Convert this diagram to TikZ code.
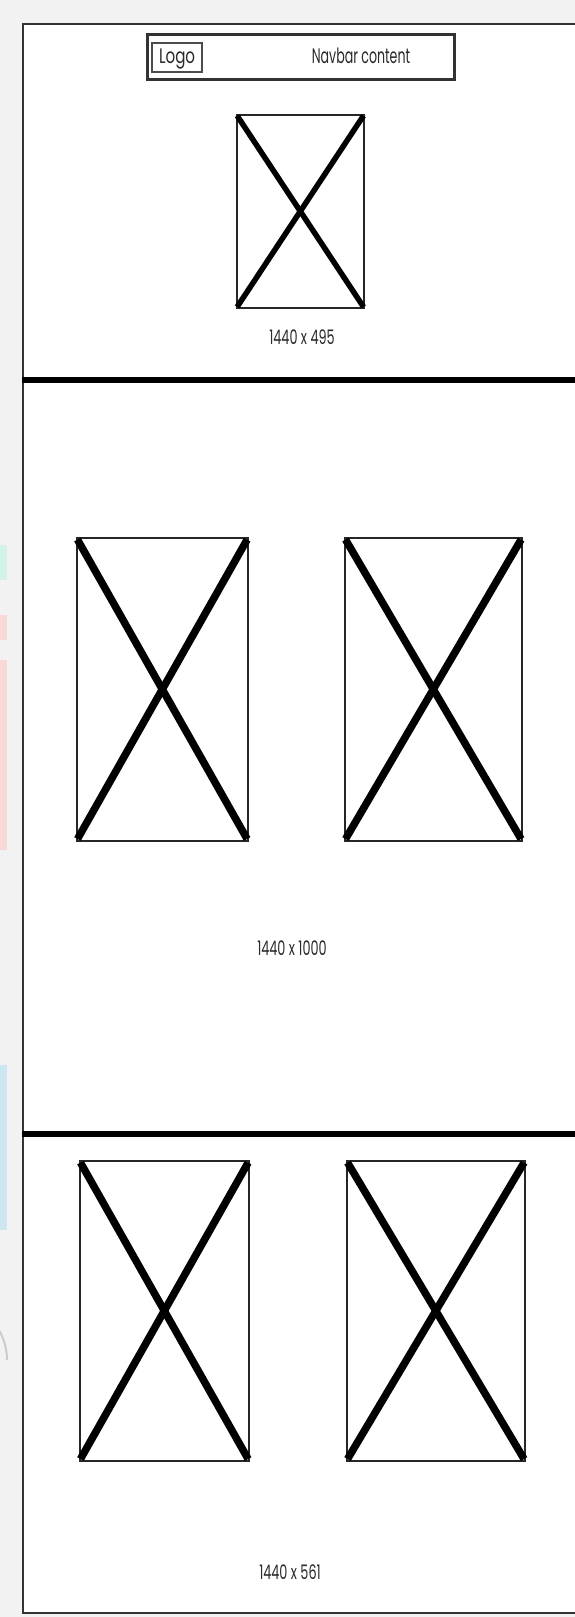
\documentclass[tikz,border=0pt]{standalone}
\usepackage{fontspec}
\usepackage{graphicx}
\setmainfont{Poppins}
\newcommand{\wtxt}[1]{\scalebox{0.64}[1]{\fontsize{20pt}{22pt}\selectfont #1}}
\newcommand{\ntxt}[1]{\scalebox{0.6}[1]{\fontsize{21pt}{23pt}\selectfont #1}}
\newcommand{\ltxt}[1]{\scalebox{0.72}[1]{\fontsize{21pt}{23pt}\selectfont #1}}
\definecolor{bggray}{HTML}{F2F2F2}
\definecolor{txtgray}{HTML}{2A2A2A}
\tikzset{
  imgbox/.style={draw=black!85, line width=1.6pt, fill=white, inner sep=0pt, anchor=north west},
  xline/.style={line width=7.5pt, black, shorten >=3pt, shorten <=3pt},
  xlinesmall/.style={line width=5.5pt, black, shorten >=2pt, shorten <=2pt},
  sepline/.style={line width=6pt, black},
  lbl/.style={text=txtgray, inner sep=0pt},
}
\begin{document}
\begin{tikzpicture}[x=1pt,y=-1pt]
\useasboundingbox (0,0) rectangle (575,1617);
\clip (0,0) rectangle (575,1617);
\fill[bggray] (0,0) rectangle (575,1617);
% faint background bits on the left strip
\fill[green!40!cyan, opacity=0.12] (0,545) rectangle (7,580);
\fill[pink, opacity=0.5] (0,615) rectangle (7,640);
\fill[pink, opacity=0.5] (0,660) rectangle (7,850);
\fill[cyan, opacity=0.15] (0,1065) rectangle (7,1230);
\draw[gray!40, line width=2pt] (7,1360) arc[start angle=0, end angle=-40, radius=60];
% outer frame
\node[draw=black!80, line width=2pt, fill=white, inner sep=0pt, anchor=north west,
      minimum width=580pt, minimum height=1589pt] (frame) at (22,23) {};
% separator lines
\coordinate (s1a) at (22,380);
\coordinate (s1b) at (580,380);
\coordinate (s2a) at (22,1134);
\coordinate (s2b) at (580,1134);
\draw[sepline] (s1a) -- (s1b);
\draw[sepline] (s2a) -- (s2b);
% navbar
\node[draw=black!80, line width=2.5pt, fill=white, inner sep=0pt, anchor=north west,
      minimum width=307pt, minimum height=45pt] (nav) at (146,33) {};
\node[draw=black!70, line width=2.2pt, fill=white, inner sep=0pt, anchor=north west,
      minimum width=50pt, minimum height=29pt] (logo) at (151,42) {};
\node[lbl] (logotxt) at ([yshift=-1pt]logo.center) {\ltxt{Logo}};
\node[lbl] (navtxt) at (361,56) {\ntxt{Navbar content}};
% hero image
\node[imgbox, minimum width=127pt, minimum height=193pt] (hero) at (236,114) {};
\draw[xlinesmall] (hero.north west) -- (hero.south east);
\draw[xlinesmall] (hero.north east) -- (hero.south west);
\node[lbl] (herolbl) at (302,337) {\wtxt{1440 x 495}};
% middle section images
\node[imgbox, minimum width=171pt, minimum height=303pt] (m1) at (76,537) {};
\draw[xline] (m1.north west) -- (m1.south east);
\draw[xline] (m1.north east) -- (m1.south west);
\node[imgbox, minimum width=177pt, minimum height=303pt] (m2) at (344,537) {};
\draw[xline] (m2.north west) -- (m2.south east);
\draw[xline] (m2.north east) -- (m2.south west);
\node[lbl] (midlbl) at (292,948) {\wtxt{1440 x 1000}};
% lower section images
\node[imgbox, minimum width=169pt, minimum height=300pt] (b1) at (79,1160) {};
\draw[xline] (b1.north west) -- (b1.south east);
\draw[xline] (b1.north east) -- (b1.south west);
\node[imgbox, minimum width=178pt, minimum height=300pt] (b2) at (346,1160) {};
\draw[xline] (b2.north west) -- (b2.south east);
\draw[xline] (b2.north east) -- (b2.south west);
\node[lbl] (lowlbl) at (290,1572) {\wtxt{1440 x 561}};
\end{tikzpicture}
\end{document}
